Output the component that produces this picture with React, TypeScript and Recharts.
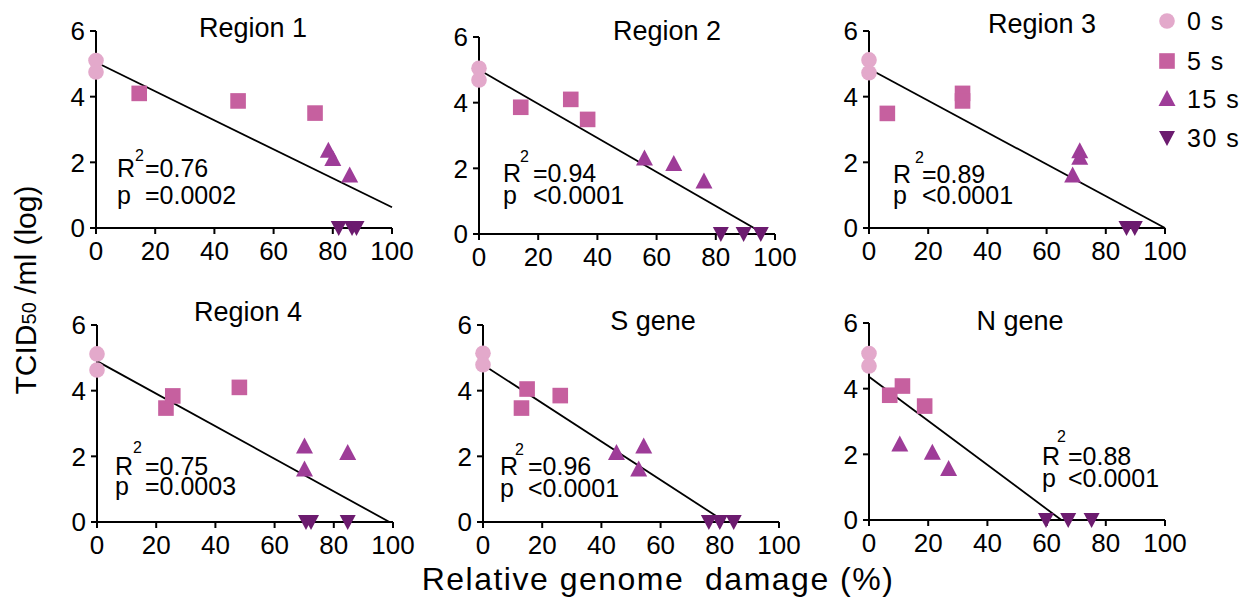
import { ScatterChart, Scatter, XAxis, YAxis, ReferenceLine } from 'recharts';

const FONT = '"Liberation Sans", Arial, Helvetica, sans-serif';

// exposure time groups
const groups = ['0 s', '5 s', '15 s', '30 s'];
const groupColors = ['#e3a9cb', '#c6609f', '#9e3c98', '#6c1b6f'];

// [relative genome damage %, TCID50 log]
const r1_0s = [[0, 5.1], [0, 4.75]];
const r1_5s = [[14.6, 4.1], [48, 3.87], [74, 3.5]];
const r1_15s = [[78.5, 2.35], [80, 2.1], [85.7, 1.6]];
const r1_30s = [[82, 0], [86.5, 0], [88, 0]];
const r1_fit = [[0, 5.05], [100, 0.63]];

const r2_0s = [[0, 5.05], [0, 4.69]];
const r2_5s = [[14.1, 3.86], [31, 4.1], [36.7, 3.49]];
const r2_15s = [[55.9, 2.3], [65.8, 2.13], [76, 1.6]];
const r2_30s = [[81.7, 0], [89.4, 0], [95.2, 0]];
const r2_fit = [[0, 5.0], [96.4, 0]];

const r3_0s = [[0, 5.12], [0, 4.73]];
const r3_5s = [[6.2, 3.49], [31.6, 4.1], [31.6, 3.87]];
const r3_15s = [[71.2, 2.34], [71.2, 2.14], [68.8, 1.6]];
const r3_30s = [[87, 0], [89.8, 0]];
const r3_fit = [[0, 4.85], [100, 0]];

const r4_0s = [[0, 5.12], [0, 4.63]];
const r4_5s = [[23.3, 3.47], [25.6, 3.84], [48.1, 4.1]];
const r4_15s = [[70.1, 2.3], [70.1, 1.6], [84.7, 2.1]];
const r4_30s = [[70.6, 0], [72.3, 0], [84.7, 0]];
const r4_fit = [[0, 4.9], [98.8, 0]];

const sg_0s = [[0, 5.14], [0, 4.79]];
const sg_5s = [[14.9, 4.05], [13, 3.47], [26.1, 3.85]];
const sg_15s = [[45.1, 2.1], [54.3, 2.3], [52.6, 1.6]];
const sg_30s = [[76.3, 0], [80, 0], [84.7, 0]];
const sg_fit = [[0, 4.79], [81.9, 0]];

const ng_0s = [[0, 5.07], [0, 4.69]];
const ng_5s = [[7, 3.8], [11.3, 4.08], [18.8, 3.47]];
const ng_15s = [[10.4, 2.3], [21.4, 2.05], [26.9, 1.55]];
const ng_30s = [[59.8, 0], [67.3, 0], [75.2, 0]];
const ng_fit = [[0, 4.36], [65, 0]];

const titles = ['Region 1', 'Region 2', 'Region 3', 'Region 4', 'S gene', 'N gene'];
const r2Values = ['=0.76', '=0.94', '=0.89', '=0.75', '=0.96', '=0.88'];
const pValues = ['=0.0002', '<0.0001', '<0.0001', '=0.0003', '<0.0001', '<0.0001'];

const xTicks = [0, 20, 40, 60, 80, 100];
const yTicks = [0, 2, 4, 6];

const toPts = (arr: number[][]) => arr.map(([x, y]) => ({ x, y }));

const PLOT_W = 296;
const PLOT_H = 197;
const Y_AXIS_W = 60;
const M_TOP = 20;
const M_RIGHT = 34;
const X_AXIS_H = 44;

// plot area positions and text placement on the page
const layout = [
  { left: 96, top: 31, titleX: 253, titleY: 37, rX: 117, eqX: 145, y1: 177, y2: 204, supX: 135, supY: 161 },
  { left: 479, top: 37, titleX: 667, titleY: 40, rX: 503, eqX: 533, y1: 182, y2: 204, supX: 520, supY: 162 },
  { left: 869, top: 31, titleX: 1042, titleY: 33, rX: 893, eqX: 922, y1: 183, y2: 204, supX: 915, supY: 163 },
  { left: 97, top: 325, titleX: 248, titleY: 321, rX: 115, eqX: 145, y1: 475, y2: 495, supX: 133, supY: 453 },
  { left: 483, top: 325, titleX: 653, titleY: 330, rX: 500, eqX: 528, y1: 475, y2: 497, supX: 515, supY: 455 },
  { left: 869, top: 323, titleX: 1020, titleY: 330, rX: 1042, eqX: 1068, y1: 465, y2: 487, supX: 1057, supY: 442 },
];

const panelSeries = [
  [r1_0s, r1_5s, r1_15s, r1_30s],
  [r2_0s, r2_5s, r2_15s, r2_30s],
  [r3_0s, r3_5s, r3_15s, r3_30s],
  [r4_0s, r4_5s, r4_15s, r4_30s],
  [sg_0s, sg_5s, sg_15s, sg_30s],
  [ng_0s, ng_5s, ng_15s, ng_30s],
];
const panelFits = [r1_fit, r2_fit, r3_fit, r4_fit, sg_fit, ng_fit];

const CircleMark = ({ cx, cy, fill }: any) => <circle cx={cx} cy={cy} r={7.8} fill={fill} />;
const SquareMark = ({ cx, cy, fill }: any) => <rect x={cx - 7.8} y={cy - 7.8} width={15.6} height={15.6} fill={fill} />;
const UpMark = ({ cx, cy, fill }: any) => (
  <polygon points={`${cx},${cy - 9} ${cx - 8.5},${cy + 7} ${cx + 8.5},${cy + 7}`} fill={fill} />
);
const DownMark = ({ cx, cy, fill }: any) => (
  <polygon points={`${cx - 8},${cy - 7} ${cx + 8},${cy - 7} ${cx},${cy + 8}`} fill={fill} />
);
const marks = [CircleMark, SquareMark, UpMark, DownMark];

const tickStyle = { fill: '#000', fontSize: 26, fontFamily: FONT };

const Panel = ({ idx }: { idx: number }) => {
  const pos = layout[idx];
  const fit = panelFits[idx];
  return (
    <div style={{ position: 'absolute', left: pos.left - Y_AXIS_W, top: pos.top - M_TOP }}>
      <ScatterChart
        width={Y_AXIS_W + PLOT_W + M_RIGHT}
        height={M_TOP + PLOT_H + X_AXIS_H}
        margin={{ top: M_TOP, right: M_RIGHT, left: 0, bottom: 0 }}
        style={{ overflow: 'visible' }}
      >
        <XAxis
          type="number"
          dataKey="x"
          domain={[0, 100]}
          ticks={xTicks}
          height={X_AXIS_H}
          stroke="#000"
          strokeWidth={2}
          tickSize={6}
          tickMargin={8}
          tick={tickStyle}
          tickLine={{ stroke: '#000', strokeWidth: 2 }}
          interval={0}
        />
        <YAxis
          type="number"
          dataKey="y"
          domain={[0, 6]}
          ticks={yTicks}
          width={Y_AXIS_W}
          stroke="#000"
          strokeWidth={2}
          tickSize={6}
          tickMargin={5}
          tick={tickStyle}
          tickLine={{ stroke: '#000', strokeWidth: 2 }}
          interval={0}
        />
        <ReferenceLine
          segment={[
            { x: fit[0][0], y: fit[0][1] },
            { x: fit[1][0], y: fit[1][1] },
          ]}
          stroke="#000"
          strokeWidth={1.8}
          ifOverflow="visible"
        />
        {panelSeries[idx].map((pts, g) => {
          const Mark = marks[g];
          return (
            <Scatter
              key={groups[g]}
              name={groups[g]}
              data={toPts(pts)}
              fill={groupColors[g]}
              shape={(p: any) => <Mark cx={p.cx} cy={p.cy} fill={groupColors[g]} />}
              isAnimationActive={false}
            />
          );
        })}
      </ScatterChart>
    </div>
  );
};

const legendY = [21, 61, 99, 138];

export default function App() {
  return (
    <div style={{ position: 'absolute', left: 0, top: 0, width: 1259, height: 599, background: '#fff', fontFamily: FONT }}>
      {titles.map((_, i) => (
        <Panel key={i} idx={i} />
      ))}
      <svg
        width={1259}
        height={599}
        style={{ position: 'absolute', left: 0, top: 0, pointerEvents: 'none' }}
        fontFamily={FONT}
      >
        {titles.map((t, i) => {
          const pos = layout[i];
          return (
            <g key={t}>
              <text x={pos.titleX} y={pos.titleY} textAnchor="middle" fontSize={27} fill="#000">
                {t}
              </text>
              <text x={pos.rX} y={pos.y1} fontSize={25} fill="#000">R</text>
              <text x={pos.supX} y={pos.supY} fontSize={16} fill="#000">2</text>
              <text x={pos.eqX} y={pos.y1} fontSize={25} fill="#000">{r2Values[i]}</text>
              <text x={pos.rX} y={pos.y2} fontSize={25} fill="#000">p</text>
              <text x={pos.eqX} y={pos.y2} fontSize={25} fill="#000">{pValues[i]}</text>
            </g>
          );
        })}
        {groups.map((g, i) => {
          const Mark = marks[i];
          return (
            <g key={g}>
              <Mark cx={1167} cy={legendY[i]} fill={groupColors[i]} />
              <text x={1187} y={legendY[i] + 9} fontSize={25} letterSpacing={1.5} fill="#000">
                {g}
              </text>
            </g>
          );
        })}
        <text transform="translate(36,290) rotate(-90)" textAnchor="middle" fontSize={30} fill="#000">
          TCID<tspan fontSize={20}>50</tspan> /ml (log)
        </text>
        <text
          x={658}
          y={590}
          textAnchor="middle"
          fontSize={32}
          letterSpacing={1.5}
          fill="#000"
          style={{ whiteSpace: 'pre' }}
        >
          {'Relative genome  damage (%)'}
        </text>
      </svg>
    </div>
  );
}
